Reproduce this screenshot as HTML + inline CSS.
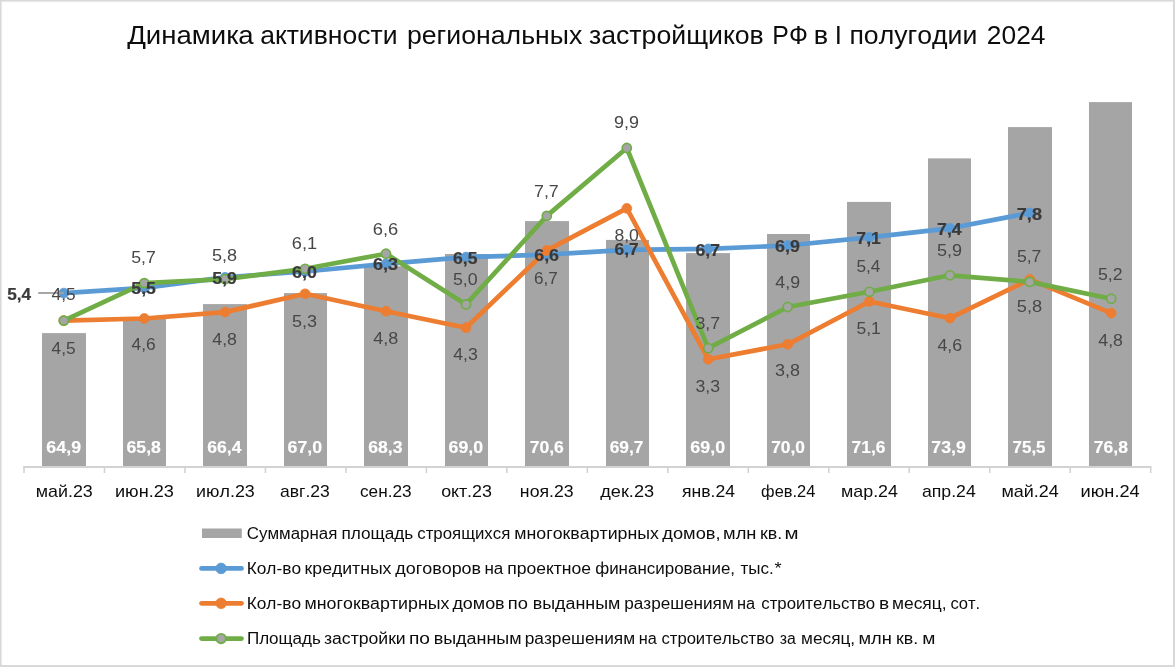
<!DOCTYPE html>
<html lang="ru"><head><meta charset="utf-8">
<title>Динамика активности региональных застройщиков РФ в I полугодии 2024</title>
<style>
html,body{margin:0;padding:0;background:#fff;}
body{width:1175px;height:667px;overflow:hidden;}
svg{display:block;font-family:"Liberation Sans","DejaVu Sans",sans-serif;font-kerning:none;}
.t{font-size:25.5px;fill:#0d0d0d;}
.c{font-size:16px;fill:#0d0d0d;}
.l{font-size:16px;fill:#0d0d0d;}
.d{font-size:15.8px;fill:#474747;}
.b{font-size:15.8px;fill:#3a3a3a;font-weight:bold;stroke:#3a3a3a;stroke-width:0.2px;}
.w{font-size:16px;fill:#fff;font-weight:bold;stroke:#fff;stroke-width:0.15px;}
</style></head><body>
<svg width="1175" height="667" viewBox="0 0 1175 667">
<rect x="0" y="0" width="1175" height="667" fill="#d9d9d9"/>
<rect x="1.6" y="1.6" width="1171.4" height="663.4" fill="#fff"/>
<g class="t">
<text y="44"><tspan x="127.2" textLength="126.5" lengthAdjust="spacingAndGlyphs">Динамика</tspan> <tspan x="260.27" textLength="137.27" lengthAdjust="spacingAndGlyphs">активности</tspan> <tspan x="406.98" textLength="175.3" lengthAdjust="spacingAndGlyphs">региональных</tspan> <tspan x="588.96" textLength="174.7" lengthAdjust="spacingAndGlyphs">застройщиков</tspan> <tspan x="772.36" textLength="35.47" lengthAdjust="spacingAndGlyphs">РФ</tspan> <tspan x="813.73" textLength="14.35" lengthAdjust="spacingAndGlyphs">в</tspan> <tspan x="834.83" textLength="7.15" lengthAdjust="spacingAndGlyphs">I</tspan> <tspan x="849.45" textLength="127.89" lengthAdjust="spacingAndGlyphs">полугодии</tspan> <tspan x="986.88" textLength="58.6" lengthAdjust="spacingAndGlyphs">2024</tspan></text>
</g>
<g fill="#a5a5a5">
<rect x="42" y="333.1" width="44" height="133.7"/>
<rect x="123" y="317.6" width="43" height="149.2"/>
<rect x="203" y="304.1" width="44" height="162.7"/>
<rect x="284" y="293.1" width="43" height="173.7"/>
<rect x="364" y="266.3" width="44" height="200.5"/>
<rect x="445" y="254" width="43" height="212.8"/>
<rect x="525" y="221.1" width="44" height="245.7"/>
<rect x="606" y="239.9" width="43" height="226.9"/>
<rect x="686" y="253.1" width="44" height="213.7"/>
<rect x="767" y="234" width="43" height="232.8"/>
<rect x="847" y="201.9" width="44" height="264.9"/>
<rect x="928" y="158.4" width="43" height="308.4"/>
<rect x="1008" y="127.1" width="44" height="339.7"/>
<rect x="1089" y="102.1" width="43" height="364.7"/>
</g>
<g stroke="#d3d3d3" stroke-width="1.6" fill="none">
<path stroke-width="2.1" d="M23.2 467 H1151.52"/>
<path d="M24 467 V473.1M104.48 467 V473.1M184.96 467 V473.1M265.44 467 V473.1M345.92 467 V473.1M426.4 467 V473.1M506.88 467 V473.1M587.36 467 V473.1M667.84 467 V473.1M748.32 467 V473.1M828.8 467 V473.1M909.28 467 V473.1M989.76 467 V473.1M1070.24 467 V473.1M1150.72 467 V473.1"/>
</g>
<polyline points="63.8,293.1 144.3,287.8 225.1,277.4 305.1,271.5 386,263.9 466,257.1 546.8,254.7 626.8,249.8 708.2,248.9 787.7,245.5 869.4,237.3 949.9,228.3 1029.8,213" fill="none" stroke="#5b9bd5" stroke-width="4.7" stroke-linejoin="round" stroke-linecap="round"/>
<g fill="#5b9bd5" stroke="#5b9bd5" stroke-width="0.8">
<circle cx="63.8" cy="293.1" r="4.9"/>
<circle cx="144.3" cy="287.8" r="4.9"/>
<circle cx="225.1" cy="277.4" r="4.9"/>
<circle cx="305.1" cy="271.5" r="4.9"/>
<circle cx="386" cy="263.9" r="4.9"/>
<circle cx="466" cy="257.1" r="4.9"/>
<circle cx="546.8" cy="254.7" r="4.9"/>
<circle cx="626.8" cy="249.8" r="4.9"/>
<circle cx="708.2" cy="248.9" r="4.9"/>
<circle cx="787.7" cy="245.5" r="4.9"/>
<circle cx="869.4" cy="237.3" r="4.9"/>
<circle cx="949.9" cy="228.3" r="4.9"/>
<circle cx="1029.8" cy="213" r="4.9"/>
</g>
<polyline points="63.8,320.6 144.3,318.5 225.1,312.1 305.1,293.8 386,311.2 466,327.7 546.8,250.4 626.8,208.4 708.2,359.2 787.7,344.3 869.4,301.5 949.9,318.2 1029.8,279.4 1111.2,313.1" fill="none" stroke="#ed7d31" stroke-width="4.7" stroke-linejoin="round" stroke-linecap="round"/>
<g fill="#ed7d31" stroke="#ed7d31" stroke-width="0.8">
<circle cx="63.8" cy="320.6" r="4.9"/>
<circle cx="144.3" cy="318.5" r="4.9"/>
<circle cx="225.1" cy="312.1" r="4.9"/>
<circle cx="305.1" cy="293.8" r="4.9"/>
<circle cx="386" cy="311.2" r="4.9"/>
<circle cx="466" cy="327.7" r="4.9"/>
<circle cx="546.8" cy="250.4" r="4.9"/>
<circle cx="626.8" cy="208.4" r="4.9"/>
<circle cx="708.2" cy="359.2" r="4.9"/>
<circle cx="787.7" cy="344.3" r="4.9"/>
<circle cx="869.4" cy="301.5" r="4.9"/>
<circle cx="949.9" cy="318.2" r="4.9"/>
<circle cx="1029.8" cy="279.4" r="4.9"/>
<circle cx="1111.2" cy="313.1" r="4.9"/>
</g>
<polyline points="63.8,320.6 144.3,283.1 225.1,279.1 305.1,268.8 386,253.7 466,304.4 546.8,215.9 626.8,148 708.2,348.2 787.7,307 869.4,291.8 949.9,275.3 1029.8,281.9 1111.2,298.7" fill="none" stroke="#70ad47" stroke-width="4.7" stroke-linejoin="round" stroke-linecap="round"/>
<g fill="#a5a5a5" stroke="#70ad47" stroke-width="1.7">
<circle cx="63.8" cy="320.6" r="4.55"/>
<circle cx="144.3" cy="283.1" r="4.55"/>
<circle cx="225.1" cy="279.1" r="4.55"/>
<circle cx="305.1" cy="268.8" r="4.55"/>
<circle cx="386" cy="253.7" r="4.55"/>
<circle cx="466" cy="304.4" r="4.55"/>
<circle cx="546.8" cy="215.9" r="4.55"/>
<circle cx="626.8" cy="148" r="4.55"/>
<circle cx="708.2" cy="348.2" r="4.55"/>
<circle cx="787.7" cy="307" r="4.55"/>
<circle cx="869.4" cy="291.8" r="4.55"/>
<circle cx="949.9" cy="275.3" r="4.55"/>
<circle cx="1029.8" cy="281.9" r="4.55"/>
<circle cx="1111.2" cy="298.7" r="4.55"/>
</g>
<path d="M38.2 293 H63.9" stroke="#a3a3a3" stroke-width="1.9" fill="none"/>
<g class="w">
<text transform="translate(46.35 453.2) scale(1.1148 1)">64,9</text>
<text transform="translate(126.55 453.2) scale(1.1044 1)">65,8</text>
<text transform="translate(207.36 453.2) scale(1.0962 1)">66,4</text>
<text transform="translate(287.55 453.2) scale(1.1138 1)">67,0</text>
<text transform="translate(368.36 453.2) scale(1.0975 1)">68,3</text>
<text transform="translate(448.55 453.2) scale(1.1104 1)">69,0</text>
<text transform="translate(529.64 453.2) scale(1.1013 1)">70,6</text>
<text transform="translate(609.66 453.2) scale(1.0854 1)">69,7</text>
<text transform="translate(690.24 453.2) scale(1.1205 1)">69,0</text>
<text transform="translate(771.15 453.2) scale(1.0874 1)">70,0</text>
<text transform="translate(851.55 453.2) scale(1.0879 1)">71,6</text>
<text transform="translate(931.34 453.2) scale(1.1085 1)">73,9</text>
<text transform="translate(1012.57 453.2) scale(1.0597 1)">75,5</text>
<text transform="translate(1093.75 453.2) scale(1.0981 1)">76,8</text>
</g>
<g class="d">
<text transform="translate(51.5 353.5) scale(1.0985 1)">4,5</text>
<text transform="translate(131.5 350.2) scale(1.1001 1)">4,6</text>
<text transform="translate(212.29 344.5) scale(1.1236 1)">4,8</text>
<text transform="translate(291.98 326.6) scale(1.1387 1)">5,3</text>
<text transform="translate(373.29 344.1) scale(1.1379 1)">4,8</text>
<text transform="translate(453.3 360) scale(1.1144 1)">4,3</text>
<text transform="translate(534.03 283.6) scale(1.0851 1)">6,7</text>
<text transform="translate(614.44 240.6) scale(1.1132 1)">8,0</text>
<text transform="translate(695.43 391.6) scale(1.1177 1)">3,3</text>
<text transform="translate(775.02 375.8) scale(1.1366 1)">3,8</text>
<text transform="translate(856.4 333.8) scale(1.1089 1)">5,1</text>
<text transform="translate(937.39 351.1) scale(1.124 1)">4,6</text>
<text transform="translate(1016.87 311.6) scale(1.1528 1)">5,8</text>
<text transform="translate(1098.29 345.7) scale(1.1236 1)">4,8</text>
<text transform="translate(51.5 300.2) scale(1.0985 1)">4,5</text>
<text transform="translate(131.19 262.8) scale(1.1199 1)">5,7</text>
<text transform="translate(211.98 260.7) scale(1.1431 1)">5,8</text>
<text transform="translate(291.78 249) scale(1.1525 1)">6,1</text>
<text transform="translate(372.77 235) scale(1.1628 1)">6,6</text>
<text transform="translate(452.99 284.7) scale(1.1248 1)">5,0</text>
<text transform="translate(533.98 197) scale(1.1297 1)">7,7</text>
<text transform="translate(614.06 128.1) scale(1.138 1)">9,9</text>
<text transform="translate(695.42 328.6) scale(1.1231 1)">3,7</text>
<text transform="translate(775.29 287.7) scale(1.1269 1)">4,9</text>
<text transform="translate(856.41 272.2) scale(1.0925 1)">5,4</text>
<text transform="translate(937.08 255.5) scale(1.1417 1)">5,9</text>
<text transform="translate(1016.89 261.8) scale(1.1151 1)">5,7</text>
<text transform="translate(1097.99 280) scale(1.1199 1)">5,2</text>
</g>
<g class="b">
<text transform="translate(7.17 300.2) scale(1.0891 1)">5,4</text>
<text transform="translate(131.36 293.9) scale(1.117 1)">5,5</text>
<text transform="translate(212.15 284.1) scale(1.1248 1)">5,9</text>
<text transform="translate(292.04 278.3) scale(1.1332 1)">6,0</text>
<text transform="translate(373.04 270.2) scale(1.1434 1)">6,3</text>
<text transform="translate(453.06 263.9) scale(1.1124 1)">6,5</text>
<text transform="translate(534.25 260.5) scale(1.129 1)">6,6</text>
<text transform="translate(614.57 254.8) scale(1.0971 1)">6,7</text>
<text transform="translate(695.45 256.1) scale(1.1164 1)">6,7</text>
<text transform="translate(775.05 251.9) scale(1.1299 1)">6,9</text>
<text transform="translate(856.34 244.4) scale(1.1177 1)">7,1</text>
<text transform="translate(937.04 235.4) scale(1.1226 1)">7,4</text>
<text transform="translate(1016.82 220.4) scale(1.1443 1)">7,8</text>
</g>
<g class="c">
<text transform="translate(35.76 496.9) scale(1.1164 1)">май.23</text>
<text transform="translate(114.94 496.9) scale(1.1334 1)">июн.23</text>
<text transform="translate(196.06 496.9) scale(1.1183 1)">июл.23</text>
<text transform="translate(280.06 496.9) scale(1.0954 1)">авг.23</text>
<text transform="translate(359.97 496.9) scale(1.0753 1)">сен.23</text>
<text transform="translate(441.15 496.9) scale(1.1181 1)">окт.23</text>
<text transform="translate(519.87 496.9) scale(1.1062 1)">ноя.23</text>
<text transform="translate(600.22 496.9) scale(1.1348 1)">дек.23</text>
<text transform="translate(681.95 496.9) scale(1.0999 1)">янв.24</text>
<text transform="translate(761.11 496.9) scale(1.0278 1)">фев.24</text>
<text transform="translate(840.96 496.9) scale(1.1181 1)">мар.24</text>
<text transform="translate(921.95 496.9) scale(1.1061 1)">апр.24</text>
<text transform="translate(1001.45 496.9) scale(1.1232 1)">май.24</text>
<text transform="translate(1080.54 496.9) scale(1.138 1)">июн.24</text>
</g>
<rect x="202" y="528.5" width="39.8" height="9.5" fill="#a5a5a5"/>
<path d="M201.5 568.4 H241.5" stroke="#5b9bd5" stroke-width="4.7" stroke-linecap="round" fill="none"/>
<circle cx="221.1" cy="568.4" r="5.3" fill="#5b9bd5" stroke="#5b9bd5" stroke-width="0.8"/>
<path d="M201.5 603.3 H241.5" stroke="#ed7d31" stroke-width="4.7" stroke-linecap="round" fill="none"/>
<circle cx="221.1" cy="603.3" r="5.3" fill="#ed7d31" stroke="#ed7d31" stroke-width="0.8"/>
<path d="M201.5 638.6 H241.5" stroke="#70ad47" stroke-width="4.7" stroke-linecap="round" fill="none"/>
<circle cx="221.1" cy="638.6" r="4.7" fill="#a5a5a5" stroke="#70ad47" stroke-width="1.9"/>
<g class="l">
<text y="538.7"><tspan x="246.84" textLength="90.53" lengthAdjust="spacingAndGlyphs">Суммарная</tspan> <tspan x="341.5" textLength="71.8" lengthAdjust="spacingAndGlyphs">площадь</tspan> <tspan x="417.29" textLength="92.98" lengthAdjust="spacingAndGlyphs">строящихся</tspan> <tspan x="514.37" textLength="144.52" lengthAdjust="spacingAndGlyphs">многоквартирных</tspan> <tspan x="662.32" textLength="58.22" lengthAdjust="spacingAndGlyphs">домов,</tspan> <tspan x="723.13" textLength="33.34" lengthAdjust="spacingAndGlyphs">млн</tspan> <tspan x="759.9" textLength="22.23" lengthAdjust="spacingAndGlyphs">кв.</tspan> <tspan x="784.49" textLength="14.02" lengthAdjust="spacingAndGlyphs">м</tspan></text>
<text y="573.7"><tspan x="246.68" textLength="54.34" lengthAdjust="spacingAndGlyphs">Кол-во</tspan> <tspan x="304.61" textLength="86.78" lengthAdjust="spacingAndGlyphs">кредитных</tspan> <tspan x="395.33" textLength="85.75" lengthAdjust="spacingAndGlyphs">договоров</tspan> <tspan x="484.42" textLength="18.88" lengthAdjust="spacingAndGlyphs">на</tspan> <tspan x="507.28" textLength="83.8" lengthAdjust="spacingAndGlyphs">проектное</tspan> <tspan x="595.19" textLength="139.84" lengthAdjust="spacingAndGlyphs">финансирование,</tspan> <tspan x="740.51" textLength="33.24" lengthAdjust="spacingAndGlyphs">тыс.</tspan><tspan x="774.51" textLength="7.08" lengthAdjust="spacingAndGlyphs">*</tspan></text>
<text y="608.7"><tspan x="246.68" textLength="54.34" lengthAdjust="spacingAndGlyphs">Кол-во</tspan> <tspan x="304.57" textLength="144.82" lengthAdjust="spacingAndGlyphs">многоквартирных</tspan> <tspan x="452.42" textLength="52.25" lengthAdjust="spacingAndGlyphs">домов</tspan> <tspan x="507.83" textLength="20.14" lengthAdjust="spacingAndGlyphs">по</tspan> <tspan x="532.66" textLength="87.67" lengthAdjust="spacingAndGlyphs">выданным</tspan> <tspan x="624.3" textLength="109.38" lengthAdjust="spacingAndGlyphs">разрешениям</tspan> <tspan x="737.07" textLength="18.13" lengthAdjust="spacingAndGlyphs">на</tspan> <tspan x="761.29" textLength="113.92" lengthAdjust="spacingAndGlyphs">строительство</tspan> <tspan x="878.97" textLength="10.16" lengthAdjust="spacingAndGlyphs">в</tspan> <tspan x="891.99" textLength="54.57" lengthAdjust="spacingAndGlyphs">месяц,</tspan> <tspan x="950.4" textLength="29.72" lengthAdjust="spacingAndGlyphs">сот.</tspan></text>
<text y="643.5"><tspan x="246.92" textLength="73.98" lengthAdjust="spacingAndGlyphs">Площадь</tspan> <tspan x="323.98" textLength="81.74" lengthAdjust="spacingAndGlyphs">застройки</tspan> <tspan x="408.97" textLength="21.03" lengthAdjust="spacingAndGlyphs">по</tspan> <tspan x="433.66" textLength="87.88" lengthAdjust="spacingAndGlyphs">выданным</tspan> <tspan x="524.68" textLength="110.41" lengthAdjust="spacingAndGlyphs">разрешениям</tspan> <tspan x="638.67" textLength="18.03" lengthAdjust="spacingAndGlyphs">на</tspan> <tspan x="661.49" textLength="112.8" lengthAdjust="spacingAndGlyphs">строительство</tspan> <tspan x="779.72" textLength="16.08" lengthAdjust="spacingAndGlyphs">за</tspan> <tspan x="801.11" textLength="54.04" lengthAdjust="spacingAndGlyphs">месяц,</tspan> <tspan x="858.43" textLength="33.34" lengthAdjust="spacingAndGlyphs">млн</tspan> <tspan x="896" textLength="22.23" lengthAdjust="spacingAndGlyphs">кв.</tspan> <tspan x="922.17" textLength="13.14" lengthAdjust="spacingAndGlyphs">м</tspan></text>
</g>
</svg>
</body></html>
